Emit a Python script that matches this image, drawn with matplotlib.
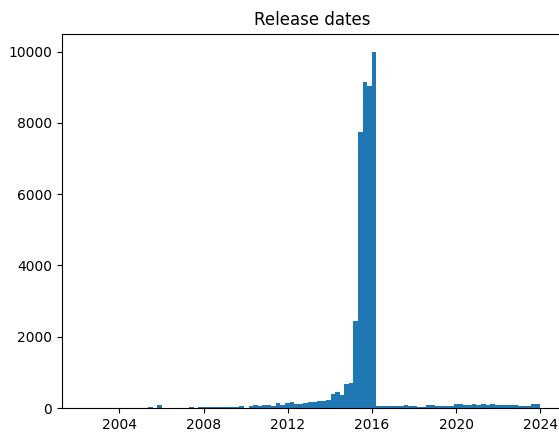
import numpy as np
import matplotlib
matplotlib.use("Agg")
import matplotlib.pyplot as plt
import matplotlib.dates as mdates
from datetime import datetime

# histogram of release dates, 100 bins between first and last date
first_date = datetime(2002, 5, 7)
last_date = datetime(2024, 1, 1)
n_bins = 100

counts = [
    1, 0, 0, 2, 0, 1, 3, 2, 0, 1,          # 0-9
    4, 2, 5, 3, 33, 4, 90, 3, 5, 2,        # 10-19
    6, 4, 8, 28, 8, 22, 25, 24, 26, 20,    # 20-29
    25, 28, 22, 20, 50, 5, 56, 84, 56, 76, # 30-39
    76, 48, 132, 84, 140, 160, 112, 112, 148, 160,  # 40-49
    160, 188, 188, 216, 400, 440, 375, 660, 705, 2445,  # 50-59
    7756, 9157, 9025, 10000, 45, 48, 50, 46, 48, 50,    # 60-69
    75, 52, 48, 30, 28, 75, 72, 48, 50, 46,  # 70-79
    48, 112, 110, 84, 86, 112, 84, 112, 84, 112,  # 80-89
    75, 76, 74, 75, 84, 56, 48, 47, 112, 110,  # 90-99
]

edges = np.linspace(mdates.date2num(first_date), mdates.date2num(last_date), n_bins + 1)
centers = (edges[:-1] + edges[1:]) / 2

fig = plt.figure(figsize=(5.59, 4.33), dpi=100)
ax = fig.add_axes([61.7 / 559, 25 / 433, 501.4 / 559, 374.3 / 433])
ax.hist(centers, bins=edges, weights=counts, color='#1f77b4')
ax.xaxis.set_major_locator(mdates.YearLocator(4))
ax.xaxis.set_major_formatter(mdates.DateFormatter('%Y'))
ax.set_title('Release dates')
fig.savefig('out.png', dpi=100)
